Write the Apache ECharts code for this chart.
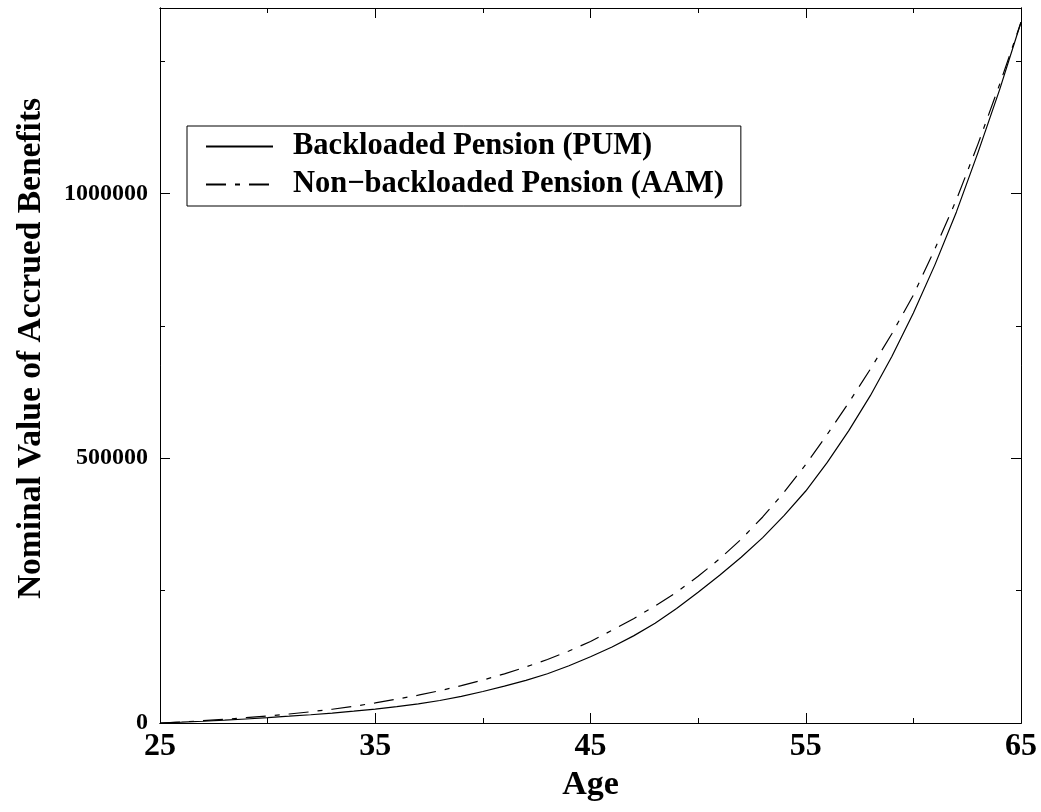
<!DOCTYPE html>
<html><head><meta charset="utf-8">
<script src="https://cdn.jsdelivr.net/npm/echarts@6/dist/echarts.min.js"></script>
<style>html,body{margin:0;padding:0;background:#fff}#c{width:1041px;height:812px}</style>
</head><body><div id="c"></div>
<script>
const ages = [25,26,27,28,29,30,31,32,33,34,35,36,37,38,39,40,41,42,43,44,45,46,47,48,49,50,51,52,53,54,55,56,57,58,59,60,61,62,63,64,65];
const pumValues = [0,1500,3300,5300,7600,10100,12800,15600,18800,22300,26200,30800,36200,42500,50300,59500,69500,80500,93000,108000,125000,143500,164500,188500,216000,247000,279000,313000,350000,392000,438000,492000,552000,618000,692000,774000,865000,965000,1077000,1195000,1323000];
const aamValues = [0,2000,4300,7000,10000,13300,17000,21200,26000,31500,38000,45000,52500,61000,70500,81000,92800,105800,120000,136000,154000,175000,197000,221000,247000,277000,310000,347000,389000,436000,488000,545000,605000,668000,735000,808000,895000,988000,1093000,1205000,1323000];
const seriesNames = ['Backloaded Pension (PUM)', 'Non\u2212backloaded Pension (AAM)'];
const xMajorTicks = [25,35,45,55,65];
const xMinorTicks = [30,40,50,60];
const yMajorTicks = [0,500000,1000000];
const yMinorTicks = [250000,750000,1250000];
const xTitle = 'Age';
const yTitle = 'Nominal Value of Accrued Benefits';

const FONT = '"Liberation Serif","Times New Roman",Times,serif';
const black = '#000';

function xAxis(pos, ticks, len, withLabels) {
  return {
    type: 'value', min: 25, max: 65, position: pos,
    name: withLabels ? xTitle : '',
    nameLocation: 'middle', nameGap: 42,
    nameTextStyle: {fontFamily: FONT, fontWeight: 'bold', fontSize: 34, color: black},
    axisLine: {show: true, onZero: false, lineStyle: {color: black, width: 1}},
    axisTick: {show: true, inside: true, length: len, customValues: ticks, lineStyle: {color: black, width: 1}},
    axisLabel: {show: withLabels, customValues: ticks, margin: 8, fontFamily: FONT, fontWeight: 'bold', fontSize: 32, color: black,
      formatter: v => String(v)},
    splitLine: {show: false}
  };
}
function yAxis(pos, ticks, len, withLabels) {
  return {
    type: 'value', min: 0, max: 1350000, position: pos,
    name: withLabels ? yTitle : '',
    nameLocation: 'middle', nameRotate: 90, nameGap: 112,
    nameTextStyle: {fontFamily: FONT, fontWeight: 'bold', fontSize: 33.5, color: black, padding: [0, 0, 0, 34]},
    axisLine: {show: true, onZero: false, lineStyle: {color: black, width: 1}},
    axisTick: {show: true, inside: true, length: len, customValues: ticks, lineStyle: {color: black, width: 1}},
    axisLabel: {show: withLabels, customValues: ticks, margin: 12, fontFamily: FONT, fontWeight: 'bold', fontSize: 24, color: black,
      formatter: v => String(v)},
    splitLine: {show: false}
  };
}

const chart = echarts.init(document.getElementById('c'), null, {renderer: 'canvas'});
chart.setOption({
  animation: false,
  backgroundColor: '#fff',
  grid: {left: 160, right: 20, top: 8, bottom: 89, containLabel: false},
  xAxis: [
    xAxis('bottom', xMajorTicks, 10, true),
    xAxis('bottom', xMinorTicks, 5, false),
    xAxis('top', xMajorTicks, 10, false),
    xAxis('top', xMinorTicks, 5, false)
  ],
  yAxis: [
    yAxis('left', yMajorTicks, 10, true),
    yAxis('left', yMinorTicks, 5, false),
    yAxis('right', yMajorTicks, 10, false),
    yAxis('right', yMinorTicks, 5, false)
  ],
  legend: {
    orient: 'vertical', left: 187, top: 126,
    data: seriesNames,
    itemWidth: 67, itemHeight: 14, itemGap: 7,
    padding: [5, 17, 6, 18],
    borderColor: black, borderWidth: 1, backgroundColor: '#fff',
    itemStyle: {color: 'rgba(0,0,0,0)', borderWidth: 0, opacity: 0},
    textStyle: {fontFamily: FONT, fontWeight: 'bold', fontSize: 30.5, color: black, padding: [0, 0, 0, 15]}
  },
  series: [
    {
      name: seriesNames[0], type: 'line', xAxisIndex: 0, yAxisIndex: 0,
      data: ages.map((a, i) => [a, pumValues[i]]),
      symbol: 'none', silent: true,
      lineStyle: {color: black, width: 1.2, type: 'solid'},
      itemStyle: {color: black}
    },
    {
      name: seriesNames[1], type: 'line', xAxisIndex: 0, yAxisIndex: 0,
      data: ages.map((a, i) => [a, aamValues[i]]),
      symbol: 'none', silent: true,
      lineStyle: {color: black, width: 1.2, type: [20, 9, 5, 9]},
      itemStyle: {color: black}
    }
  ]
});
</script>
</body></html>
